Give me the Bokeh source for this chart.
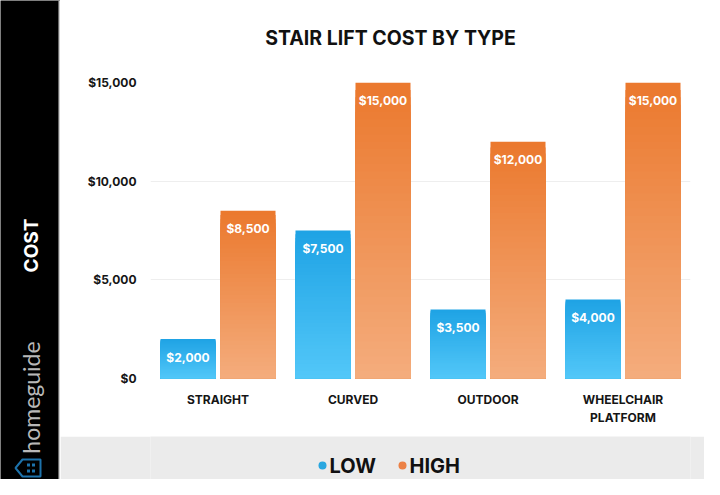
from bokeh.plotting import figure
from bokeh.models import FactorRange, Range1d, FixedTicker, NumeralTickFormatter, ColumnDataSource
from bokeh.transform import dodge
from bokeh.layouts import row, column
from bokeh.core.properties import value
from bokeh.embed import file_html
from bokeh.resources import INLINE
import math

# ---- data ----
categories = ["STRAIGHT", "CURVED", "OUTDOOR", "WHEELCHAIR\nPLATFORM"]
low = [2000, 7500, 3500, 4000]
high = [8500, 15000, 12000, 15000]
series = ["LOW", "HIGH"]
y_ticks = [0, 5000, 10000, 15000]
title_text = "STAIR LIFT COST BY TYPE"
axis_title = "COST"
brand = "homeguide"

# ---- styles ----
FONT = "Inter"
BLUE_TOP, BLUE_BOT = (0x1f, 0xa3, 0xe5), (0x52, 0xc7, 0xf8)
ORNG_TOP, ORNG_BOT = (0xeb, 0x79, 0x2e), (0xf4, 0xac, 0x7c)
DOT_COLORS = ["#29a7e0", "#ec8146"]
N_SEG = 40

W_COL = 644
BL, BR = 90, 14          # borders of the chart column (frames aligned)
XR = (150, 690)          # frame horizontal span in page pixels


def mix(c1, c2, t):
    return "#%02x%02x%02x" % tuple(int(round(a + (b - a) * t)) for a, b in zip(c1, c2))


def gradient_source(vals, top_c, bot_c):
    # nested rectangles from 0 up to a fraction of the value; tallest (top colour) first
    d = dict(cat=[], top=[], color=[])
    for k in range(N_SEG, 0, -1):
        for cat, v in zip(categories, vals):
            d["cat"].append(cat)
            d["top"].append(v * k / N_SEG)
            d["color"].append(mix(bot_c, top_c, (k - 1) / (N_SEG - 1)))
    return ColumnDataSource(d)


def plain(f, bg):
    f.axis.visible = False
    f.grid.visible = False
    f.outline_line_color = None
    f.background_fill_color = bg
    f.border_fill_color = bg


# ---- title figure ----
tf = figure(width=W_COL, height=68, x_range=Range1d(*XR), y_range=Range1d(68, 0),
            output_backend="svg", toolbar_location=None,
            min_border_left=BL, min_border_right=BR, min_border_top=0, min_border_bottom=0)
plain(tf, "white")
tf.text(x=[390], y=[37], text=[title_text], text_align="center", text_baseline="middle",
        text_font=value(FONT), text_font_style="bold", text_font_size="19.5px", text_color="#111111")

# ---- main chart ----
p = figure(width=W_COL, height=368, x_range=FactorRange(factors=categories, range_padding=0),
           y_range=Range1d(0, 15000), output_backend="svg", toolbar_location=None,
           min_border_left=BL, min_border_right=BR, min_border_top=14, min_border_bottom=58)
p.outline_line_color = None
p.background_fill_color = "white"
p.border_fill_color = "white"
p.xgrid.grid_line_color = None
p.ygrid.grid_line_color = "#eeeeee"
p.ygrid.ticker = FixedTicker(ticks=y_ticks)

p.yaxis.ticker = FixedTicker(ticks=y_ticks)
p.yaxis.formatter = NumeralTickFormatter(format="$0,0")
for ax in (p.xaxis[0], p.yaxis[0]):
    ax.axis_line_color = None
    ax.major_tick_line_color = None
    ax.minor_tick_line_color = None
    ax.major_tick_out = 0
    ax.major_tick_in = 0
    ax.minor_tick_out = 0
    ax.major_label_text_font = FONT
    ax.major_label_text_font_style = "bold"
    ax.major_label_text_font_size = "12px"
    ax.major_label_text_color = "#151515"
p.yaxis.major_label_standoff = 14
p.xaxis.major_label_standoff = 13

OFF = 30 / 135
BW = 55 / 135
for vals, top_c, bot_c, off in ((low, BLUE_TOP, BLUE_BOT, -OFF), (high, ORNG_TOP, ORNG_BOT, OFF)):
    src = gradient_source(vals, top_c, bot_c)
    p.vbar(x=dodge("cat", off, range=p.x_range), bottom=0, top="top", width=BW,
           source=src, fill_color="color", line_color=None)
    lab = ColumnDataSource(dict(cat=categories, v=vals, t=["${:,}".format(v) for v in vals]))
    p.text(x=dodge("cat", off, range=p.x_range), y="v", text="t", source=lab,
           y_offset=18, text_align="center", text_baseline="middle", text_color="white",
           text_font=value(FONT), text_font_style="bold", text_font_size="12px")

# ---- legend figure ----
lf = figure(width=W_COL, height=43, x_range=Range1d(*XR), y_range=Range1d(479, 436),
            output_backend="svg", toolbar_location=None,
            min_border_left=BL, min_border_right=BR, min_border_top=0, min_border_bottom=0)
plain(lf, "#ebebeb")
dot_x = [322 + 80 * i for i in range(len(series))]
lf.scatter(x=dot_x, y=[465] * len(series), size=8, color=DOT_COLORS, line_color=None)
lf.text(x=[x + 7 for x in dot_x], y=[465] * len(series), text=series, text_align="left",
        text_baseline="middle", text_font=value(FONT), text_font_style="bold",
        text_font_size="20px", text_color="#111111")

# ---- sidebar ----
sb = figure(width=60, height=479, x_range=Range1d(0, 60), y_range=Range1d(479, 0),
            output_backend="svg", toolbar_location=None, min_border=0)
plain(sb, "black")
sb.quad(left=[58], right=[60], top=[0], bottom=[479], color="#cfcfcf", line_color=None)
sb.text(x=[30.5], y=[245], text=[axis_title], angle=math.pi / 2, text_align="center",
        text_baseline="middle", text_font=value(FONT), text_font_style="bold",
        text_font_size="19px", text_color="white")
sb.text(x=[30], y=[397], text=[brand], angle=math.pi / 2, text_align="center",
        text_baseline="middle", text_font=value("Lato"), text_font_size="23px",
        text_color="#b8b8b8")
sb.patch(x=[15, 22, 40, 40, 22], y=[467.5, 459, 459, 476, 476], fill_color=None,
         line_color="#1d72ab", line_width=2)
sb.scatter(x=[28, 33, 28, 33], y=[464.5, 464.5, 470.5, 470.5], marker="square", size=3,
           color="#1d72ab", line_color=None)

layout = row(sb, column(tf, p, lf, spacing=0), spacing=0)
open("out.html", "w").write(file_html(layout, INLINE))
